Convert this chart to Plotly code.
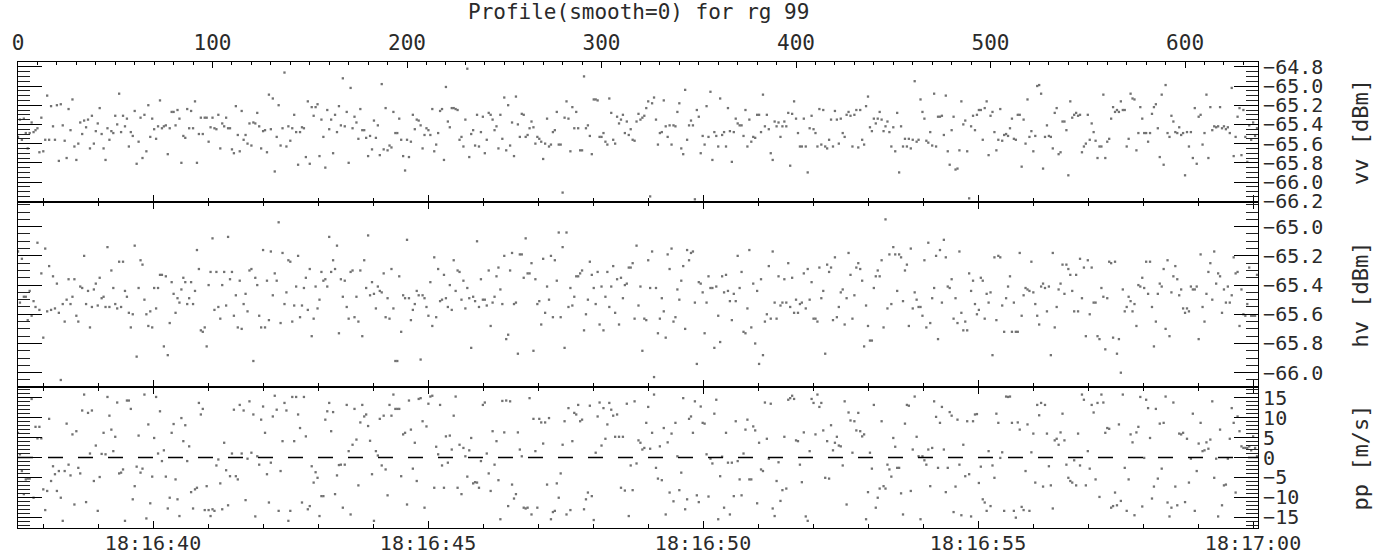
import numpy as np
import pandas as pd
import plotly.graph_objects as go

title_text = "Profile(smooth=0) for rg 99"
t_start = "2024-01-01 18:16:37.545"
t_end = "2024-01-01 18:17:00.091"
dt_seconds = 0.035366
sample_range = [0, 637.5]
time_tick0 = "2024-01-01 18:16:40"

vv_range = [-66.208, -64.75]
hv_range = [-66.098, -64.831]
pp_range = [-17.7, 17.7]

y_titles = ["vv [dBm]", "hv [dBm]", "pp [m/s]"]

vv = [
    -65.53, -65.35, -65.56, -65.34, -65.49, -65.65, -65.49, -65.38, -65.48, -65.46,
    -65.44, -65.69, -65.33, -65.68, -65.56, -65.10, -65.56, -65.21, -65.42, -65.56,
    -65.20, -65.78, -65.19, -65.41, -65.57, -65.75, -65.24, -65.46, -65.14, -65.63,
    -65.77, -65.60, -65.38, -65.50, -65.36, -65.43, -65.35, -65.65, -65.31, -65.60,
    -65.47, -65.39,
    -65.23, -65.50, -65.65, -65.77, -65.44, -65.56, -65.47, -65.49, -65.31, -65.40,
    -65.08, -65.48, -65.31, -65.42, -65.34, -65.63, -65.48, -65.52, -65.26, -65.81,
    -65.58, -65.33,
    -65.75, -65.30, -65.68, -65.20, -65.53, -65.34, -65.45, -65.55, -65.42, -65.15,
    -65.44, -65.42, -65.41, -65.71, -65.44,
    -65.27, -65.27, -65.41, -65.25, -65.34, -65.80, -65.52, -65.54, -65.24, -65.44,
    -65.26, -65.44, -65.16, -65.80, -65.50, -65.33, -65.50, -65.33, -65.33, -65.58,
    -65.43, -65.33, -65.44, -65.45, -65.30, -65.65, -65.39, -65.42, -65.33, -65.44,
    -65.44, -65.66, -65.70, -65.21, -65.51, -65.68, -65.26, -65.56, -65.51, -65.60,
    -65.39, -65.62, -65.38, -65.39, -65.28, -65.42, -65.65, -65.47, -65.46, -65.69,
    -65.09, -65.45, -65.13, -65.89, -65.53, -65.20, -65.62, -65.44, -64.86, -65.63,
    -65.42, -65.57, -65.44, -65.30, -65.48, -65.82, -65.48, -65.43, -65.44, -65.74,
    -65.16, -65.81, -65.22, -65.31, -65.22, -65.19, -65.73, -65.35, -65.53, -65.85,
    -65.25, -65.45, -65.35, -65.70, -65.30, -65.48, -65.21, -65.41, -64.92, -65.42,
    -65.27, -65.80, -65.02, -65.44, -65.32, -65.38, -65.55, -65.24, -65.46, -65.46,
    -65.54, -65.73, -65.52, -65.66, -65.36, -65.54, -65.41, -65.72, -64.98, -65.66,
    -65.23, -65.67, -65.62, -65.64, -65.27, -65.49, -65.49, -65.34, -65.56, -65.73,
    -65.88, -65.56, -65.74, -65.58, -65.30, -65.45, -65.35, -65.36, -65.41, -65.65,
    -65.51, -65.44, -65.46, -65.51, -65.24, -65.68, -65.61, -65.49, -65.26, -65.24,
    -65.77, -65.01, -65.37, -65.43,
    -65.23, -65.23, -65.24, -65.25, -65.56, -65.53, -65.63, -65.35, -64.82, -65.74,
    -65.50, -65.46, -65.62, -65.30, -65.63, -65.48, -65.32, -65.70, -65.56, -65.28,
    -65.30, -65.35, -65.46, -65.42, -65.65, -65.30, -65.55, -65.12, -65.67, -65.20,
    -65.62, -65.38, -65.73, -65.11, -65.40, -65.53, -65.29, -65.30, -65.53, -65.51,
    -65.44,
    -65.37, -65.43, -65.60, -65.53, -65.55, -65.58, -65.76, -65.60, -65.34, -65.63,
    -65.61, -65.48, -65.46, -65.27, -65.61, -65.61, -66.11, -65.33, -65.16, -65.34,
    -65.68, -65.22, -65.44, -65.27, -65.44, -65.67, -65.67, -64.90, -65.44, -65.41,
    -65.52,
    -65.71, -65.14, -65.14, -65.15, -65.53, -65.53, -65.49, -65.58, -65.61, -65.13,
    -65.28, -65.56, -65.60, -65.32, -65.39, -65.35, -65.30, -65.49, -65.37, -65.51,
    -65.45,
    -65.56, -65.57, -65.37, -65.29, -65.35, -65.33, -65.31, -65.23, -65.16, -66.15,
    -65.18, -65.12, -65.35, -65.61, -65.49, -65.48, -65.15, -65.42, -65.53, -65.41,
    -65.61, -65.41, -65.42, -65.27, -65.18, -65.65, -65.71, -65.04, -65.56, -65.41,
    -65.36,
    -65.41, -66.18, -65.25, -65.32, -65.70, -65.52, -65.61, -65.21, -65.53, -65.06,
    -65.77, -65.48, -65.52, -65.63, -65.13, -65.51, -65.48, -65.63, -65.23, -65.47,
    -65.79, -65.48, -65.34, -65.39, -65.41, -65.41, -65.52, -65.25, -65.63, -65.35,
    -65.58,
    -65.53, -65.54, -65.30, -65.30, -65.48, -65.09, -65.42, -65.30, -65.45, -65.70,
    -65.77, -65.37, -65.42, -65.38, -65.53, -65.42, -65.37, -65.42, -65.28, -65.83,
    -65.29, -65.16, -65.34, -65.49, -65.63, -65.63, -65.34, -65.63, -65.90, -65.44,
    -65.31,
    -65.45, -65.49, -65.63, -65.24, -65.61, -65.25, -65.63, -65.65, -65.56, -65.35,
    -65.63, -65.26, -65.35, -65.60, -65.34, -65.49, -65.53, -65.30, -65.27, -65.31,
    -65.63, -65.30, -65.25, -65.64, -65.25, -65.56, -65.61, -65.21, -65.11, -65.43,
    -65.47,
    -65.34, -65.39, -65.34, -65.27, -65.35, -65.47, -65.42, -65.37, -65.48, -65.63,
    -65.43, -65.68, -65.28, -65.90, -65.42, -65.63, -65.55, -65.63, -65.55, -65.65,
    -65.56, -64.95, -65.58, -65.56, -65.14, -65.27, -65.34, -65.57, -65.59, -65.48,
    -65.62, -65.08, -65.63, -65.32, -65.32, -65.31, -65.51, -65.10, -65.68, -65.82,
    -65.46, -65.32, -65.87, -65.86, -65.67, -65.16, -65.40, -65.36, -65.68, -66.17,
    -65.42,
    -65.31, -65.46, -65.30, -65.25, -65.25, -65.56, -65.23, -65.16, -65.72, -65.31,
    -65.27, -65.48, -65.67, -65.56, -65.24, -65.57, -65.51, -65.50, -65.52, -65.44,
    -65.34, -65.55, -65.56, -65.30, -65.30, -65.84, -65.35, -65.60, -65.14, -65.53,
    -65.47,
    -65.68, -65.52, -65.00, -64.99, -65.08, -65.86, -65.53, -65.41, -65.52, -65.53,
    -65.65, -65.28, -65.23, -65.71, -65.69, -65.37, -65.37, -65.46, -65.93, -65.16,
    -65.33, -65.30, -65.28, -65.31, -65.30, -65.69, -65.63, -65.60, -65.30, -65.56,
    -65.39,
    -65.48, -65.57, -65.75, -65.63, -65.63, -65.09, -65.75, -65.58, -65.55, -65.34,
    -65.22, -65.27, -65.25, -65.27, -65.16, -65.25, -65.25, -65.63, -65.55, -65.08,
    -65.13, -65.14, -65.67, -65.49, -65.22, -65.34, -65.49, -65.49, -65.58, -65.49,
    -65.29,
    -65.22, -65.19, -65.44, -65.74, -65.09, -65.82, -64.99, -65.49, -65.53, -65.31,
    -65.37, -65.48, -65.49, -65.43, -65.51, -65.49, -65.93, -65.48, -65.63, -65.48,
    -65.75, -65.23, -65.81, -65.32, -65.30, -65.61, -65.49, -65.09, -65.75, -65.22,
    -65.46,
    -65.42, -65.43, -65.42, -65.22, -65.44, -65.42, -65.45, -65.43, -65.49, -65.02,
    -65.73, -65.53, -65.32, -65.23, -65.72, -65.25, -65.53, -65.79, -65.41, -65.56,
    -65.38,
    -65.52, -65.44,
]

hv = [
    -65.17, -65.52, -65.22, -65.48, -65.48, -65.64, -65.44, -65.61, -65.51, -65.55,
    -65.11, -65.57, -65.32, -65.76, -65.15, -65.58, -65.27, -65.57, -65.34, -65.56,
    -65.39, -65.59, -66.05, -65.53, -65.65, -65.50, -65.36, -65.53, -65.48, -65.36,
    -65.61, -65.65, -65.41, -65.42, -65.20, -65.53, -65.44, -65.69, -65.55, -65.43,
    -65.39, -65.54, -65.35, -65.49, -65.48, -65.55, -65.14, -65.55, -65.30, -65.42,
    -65.53, -65.56, -65.24, -65.55, -65.24, -65.44, -65.48, -65.59, -65.69, -65.60,
    -65.13, -65.89, -65.42, -65.23, -65.26, -65.50, -65.60, -65.68, -65.58, -65.69,
    -65.42, -65.56, -65.42, -65.33, -65.33, -65.82, -65.34, -65.88, -65.66, -65.38,
    -65.46, -65.59, -65.49, -65.52, -65.43, -65.35, -65.38, -65.53, -65.49, -65.38,
    -65.53, -65.44, -65.16, -65.29, -65.71, -65.72, -65.69, -65.82, -65.40, -65.31,
    -65.08, -65.57, -65.31, -65.55, -65.63, -65.40, -65.31, -65.54, -65.07, -65.36,
    -65.31, -65.61, -65.47, -65.69, -65.37, -65.70, -65.53, -65.46, -65.58, -65.30,
    -65.29, -65.92, -65.35, -65.40, -65.61, -65.69, -65.16, -65.69, -65.37, -65.64,
    -65.17, -65.47, -65.32, -65.37, -64.97, -65.66, -65.18, -65.53, -65.45, -65.23,
    -65.24, -65.65, -65.54, -65.41, -65.20, -65.62, -65.54, -65.42, -65.35, -65.57,
    -65.29, -65.75, -65.63, -65.41, -65.56, -65.50, -65.31, -65.37, -65.36, -65.41,
    -65.07, -65.31, -65.23, -65.29, -65.13, -65.73, -65.36, -65.48, -65.37, -65.55,
    -65.63, -65.31, -65.30, -65.62, -65.48, -65.65, -65.30, -65.75, -65.23, -65.42,
    -65.06, -65.47, -65.38, -65.46, -65.56, -65.41, -65.44, -65.45, -65.32, -65.62,
    -65.49, -65.63, -65.29, -65.56, -65.92, -65.92, -65.34, -65.72, -65.47, -65.49,
    -65.09, -65.49, -65.64, -65.57, -65.53, -65.44, -65.47, -65.91, -65.47, -65.49,
    -65.55, -65.61, -65.38, -65.68, -65.21, -65.62, -65.29, -65.51, -65.50, -65.33,
    -65.49, -65.55, -65.40, -65.57, -65.23, -65.44, -65.30,
    -65.31, -65.50, -65.37, -65.56, -65.42, -65.49, -65.83, -65.48, -65.51, -65.10,
    -65.55, -65.36, -65.50, -65.50, -65.54, -65.30, -65.68, -65.52, -65.48, -65.34,
    -65.28, -65.43, -65.53, -65.20, -65.77, -65.74, -65.30, -65.18, -65.53, -65.52,
    -65.87, -65.19, -65.19, -65.35, -65.08, -65.32, -65.32, -65.25, -65.85, -65.36,
    -65.53, -65.51, -65.67, -65.22, -65.59, -65.41, -65.50, -65.20, -65.62, -65.23,
    -65.37, -65.04, -65.62, -65.14, -65.83, -65.04, -65.55, -65.42, -65.54, -65.48,
    -65.34, -65.34, -65.32, -65.30, -65.71, -65.60, -65.50, -65.24, -65.33, -65.42,
    -65.53, -65.31, -65.67, -65.41, -65.71, -65.48, -65.31, -65.55, -65.41, -65.27,
    -65.59, -65.36, -65.67, -65.35, -65.49, -65.40, -65.39, -65.28, -65.28, -65.25,
    -65.63, -65.13, -65.54, -65.41, -65.85, -65.63, -65.64, -65.23, -65.42, -65.17,
    -66.03, -65.42, -65.73, -65.63, -65.49, -65.58, -65.76, -65.19, -65.29, -65.15,
    -65.65, -65.62, -65.43, -65.50, -65.37, -65.27, -65.70, -65.16, -65.23, -65.18,
    -65.17, -65.52, -65.94, -65.38, -65.39, -65.45, -65.73, -65.52, -65.34, -65.42,
    -65.42, -65.83, -65.41, -65.61, -65.79, -65.34, -65.45, -65.33, -65.44, -65.51,
    -65.64, -65.46, -65.51, -65.20, -65.42, -65.31, -65.72, -65.73, -65.56, -65.16,
    -65.69, -65.39, -65.80, -65.44, -65.94, -65.36, -65.88, -65.65, -65.60, -65.27,
    -65.63, -65.17, -65.52, -65.63, -65.34, -65.54, -65.52, -65.36, -65.52, -65.25,
    -65.55, -65.35, -65.59, -65.50, -65.59, -65.53, -65.52, -65.32, -65.56, -65.29,
    -65.50, -65.38, -65.63, -65.63, -65.65, -65.28, -65.49, -65.44, -65.87, -65.26,
    -65.31, -65.28, -65.64, -65.21, -65.62, -65.55, -65.45, -65.43, -65.67, -65.49,
    -65.18, -65.33, -65.63, -65.47, -65.28, -65.25, -65.29, -65.37, -65.82, -65.54,
    -65.68, -65.78, -65.78, -65.42, -65.34, -65.30, -65.34, -65.23, -65.69, -64.95,
    -65.56, -65.19, -65.53, -65.14, -65.19, -65.44, -65.19, -65.21, -65.51, -65.30,
    -65.26, -65.68, -65.15, -65.56, -65.45, -65.50, -65.55,
    -65.55, -65.61, -65.23, -65.69, -65.11, -65.66, -65.49, -65.42, -65.20, -65.77,
    -65.16, -65.52, -65.09, -65.21, -65.41, -65.42, -65.36, -65.63, -65.49, -65.66,
    -65.17, -65.59, -65.71, -65.65, -65.71, -65.32, -65.44, -65.37, -65.53, -65.60,
    -65.57, -65.35, -65.37, -65.63, -65.46, -65.52, -65.45, -65.88, -65.21, -65.64,
    -65.20, -65.21, -65.54, -65.72, -65.49, -65.41, -65.34, -65.72, -65.52, -65.72,
    -65.72, -65.18, -65.61, -65.47, -65.42, -65.43, -65.44, -65.24, -65.45, -65.53,
    -65.61, -65.67, -65.41, -65.39, -65.42, -65.58, -65.41, -65.88, -65.18, -65.69,
    -65.55, -65.43, -65.39, -65.26, -65.46, -65.26, -65.29, -65.33, -65.44, -65.58,
    -65.33, -65.58, -65.22, -65.49, -65.28, -65.75, -65.23, -65.60, -65.28, -65.52,
    -65.52, -65.75, -65.77, -65.42, -65.48, -65.84, -65.49, -65.24, -65.25, -65.76,
    -65.24, -65.87, -65.77, -66.00, -65.43, -65.58, -65.55, -65.48, -65.51, -65.58,
    -65.53, -65.68, -65.40, -65.41, -65.35, -65.42, -65.24, -65.46, -65.24, -65.55,
    -65.82, -65.65, -65.46, -65.39, -65.41, -65.29, -65.70, -65.23, -65.75, -65.45,
    -65.34, -65.27, -65.36, -65.47, -65.43, -65.56, -65.59, -65.56, -65.58, -65.41,
    -65.43, -65.43, -65.41, -65.77, -65.19, -65.55, -65.65, -65.46, -65.31, -65.25,
    -65.50, -65.17, -65.39, -65.32, -65.34, -65.59, -65.43, -65.52, -65.41, -65.52,
    -65.47, -65.21, -65.32, -65.31, -65.68, -65.43, -65.60, -65.61, -65.53, -65.28,
    -65.61, -65.61, -65.61, -65.33,
]

pp = [
    6.2, 0.8, -3.4, -9.2, -5.5, -5.3, -5.3, 14.7, -10.1, 7.7,
    4.8, 7.7, 4.8, -8.0, -13.2, -8.4, 9.7, -5.9, -2.2, -4.2,
    -8.4, -3.4, -10.1, -15.9, -3.4, 8.5, -1.8, -4.5, 5.8, -11.8,
    6.6, -2.6, -4.0, 11.8, 15.8, -11.2, 11.2, 1.0, 11.8, -5.9,
    3.0, -13.4, -4.9, 0.9, 6.2, 0.8, 15.2, 10.5, 7.0, 1.6,
    5.2, 13.8, -4.0, -3.8, -3.0, -15.9, 14.3, 14.3, 12.2, -10.5,
    -7.2, -2.3, 5.5, -3.8, -2.8, 15.8, -15.3, 8.3, -11.5, -4.8,
    4.9, 15.2, 1.0, 11.6, -0.9, 1.8, -4.8, -12.8, -10.1, 6.2,
    8.4, -5.5, -10.5, -14.7, 9.9, 4.1, 8.1, -0.9, 2.8, -8.7,
    -12.8, -8.0, -7.6, 13.7, 10.8, 12.2, -13.2, -7.2, -13.2, -14.7,
    -13.0, -13.4, -2.0, -0.5, -6.5, -13.0, 3.7, -3.2, -12.0, -4.7,
    1.0, 12.0, -4.7, -5.5, 13.2, 1.0, 11.8, -10.7, -0.3, 14.1,
    1.2, 10.8, -14.8, 0.3, -1.8, 9.5, 12.8, 6.2, -4.2, -11.3,
    -1.3, 10.3, 15.5, 12.0, -13.4, -3.4, 4.1, 13.7, 11.8, -15.9,
    -13.4, 15.2, 4.1, 15.2, 10.8, 7.4, -11.3, 15.2, 5.3, -13.0,
    -12.2, -2.2, -6.3, -3.7, -5.1, -14.7, -9.7, -9.7, 9.5, 11.6,
    13.7, 6.6, 11.4, -9.2, -4.5, -1.9, -1.8, -12.6, -1.8, 13.2,
    1.6, -14.3, 3.2, 12.2, 4.5, -7.0, 8.8, 13.2, 10.3, 10.8,
    7.9,
    4.2, -4.2, -15.9, 1.6, 0.5, 9.7, -2.0, 10.5, -3.0, -9.5,
    13.2, 10.5, 15.8, 12.2, 12.2, 12.2, -4.7, 5.8, 6.2, -11.8,
    14.3, 7.0, -2.8, 3.7, -5.9, 14.7, 14.9, 9.1, -12.6, 7.8,
    13.5, 15.3, 15.5, -7.6, 2.7, 0.8, 13.2, -2.0, -7.6, 5.3,
    -1.3, 5.5, 2.0, 10.5, 15.3, -7.6,
    3.2, -9.2, 2.4, 0.3, -4.8, 1.8, 4.9, -6.5, -6.2, -6.3,
    -7.6, -0.9, 13.2, 13.8, 1.0, -4.0, -8.4, 6.6, -1.8, 4.1,
    -5.7, -15.5, 14.2, 6.3, 14.3, -12.2, 14.1, -6.8, -10.3, -9.2,
    6.3, 2.0, 0.3, -12.6, -12.8, -12.6, 14.9, -14.3, 9.7, 1.6,
    -12.6, 9.7, 8.8, 3.5, 8.8, -6.8, 9.9, -15.5, -13.7, -13.4,
    -6.5, -10.1, -4.0, 3.2, 9.1, -14.3, 12.4, -13.2, 4.1, 11.2,
    10.8, 13.2, 9.1, 9.5, -13.0, -10.5, -8.8, 13.0, -9.7, -15.7,
    1.2, 10.3, 13.8, 3.0, 12.4, 4.7, 8.3, 13.7, 12.0, 10.5,
    5.2, 10.8, 5.2, -7.6, 5.2, -8.3, 13.5, -14.7, -2.0, -8.2,
    14.1, -1.5, 4.3, 3.7, 2.0, 2.4, 8.7, 12.7, 2.2, 6.2,
    15.8, -2.6, -5.3, 2.8, -5.7, 7.4, -14.3, 3.8, -8.8, 6.0,
    -11.0,
    8.7, 0.3, -8.2, -3.8, 14.9, -13.0, -10.5, 9.7, 10.3, 6.2,
    14.1, -9.5, -11.2, 12.8, 8.7, 8.5, 0.8, -9.8, -0.3, -1.5,
    11.0, 14.5, -15.5, -4.7, 0.2, -12.6, 6.2, -1.3, -14.3, -1.3,
    -9.7, 9.1, -0.9, -5.5, -9.5, 1.0, 7.0, 9.5, -5.5, -5.5,
    7.8, 6.8, -11.5, 3.7, -3.0, -3.4, 13.8, 4.7, -0.3, 13.5,
    -12.8, -14.7, -5.9, -1.2, -10.9, -8.2, 5.2, -7.8, 14.5, 14.9,
    15.5, 14.7, 4.3, 4.1, -1.8, -6.2, 6.3, -14.8, -15.9, 1.6,
    14.7, 13.7, 5.8, 15.8, 12.7, 13.7, 6.8, -5.1, 4.1, -5.3,
    8.1,
    1.8, 3.7, 5.2, 3.0, 2.8, -2.0, 14.1, -11.8, 11.3, 9.3,
    1.2, 9.1, 6.8, 11.2, 6.6, 5.3, 5.8, -15.5, -8.7, 1.2,
    -2.8, 13.2, -12.6, -10.1, -7.8, 9.1, -7.2, -7.8, -1.8, -3.0,
    -4.8, 4.9, 2.7, -2.6, -2.6, -9.0, -14.3, 8.5, 13.2, 13.0,
    -8.4, 2.0, 15.3, 5.2, 0.3,
    -15.5, 0.3, -0.7, -1.8, 2.0, -7.2, 2.4, 14.1, 10.2, -2.6,
    8.7, 12.7, 2.0, -8.7, -2.6, 11.4, 10.5, -13.7, -7.3, 9.5,
    -1.8, -14.5, 3.2, -4.7, 9.1, -4.2, -14.8, 9.1, 10.8, 10.9,
    -6.4,
    -2.3, -10.5, -11.3, -13.4, 1.6, -12.2, -2.0, -5.1, 11.0, 8.7,
    -0.1, 1.3, -13.4, 15.3, 15.2, 15.3, 8.7, -13.4, -15.1, 8.8,
    7.0, -12.4, -13.2, -3.4, 8.3, -13.4, 1.3, 6.0, -6.3, 13.2,
    10.6,
    13.7, -7.3, 13.2, 6.0, -2.2, -7.0, -12.8, 4.3, 4.7, 3.2,
    6.3, 11.0, 4.3, -1.8, -5.1, -5.9, -6.3, -0.7, -7.0, 6.0,
    -2.0, 15.8, 14.5, -7.0, 1.6, -2.8, 13.2, 11.3, -5.5, 13.7,
    -9.9,
    15.8, 13.8, 6.2, 7.4, 7.2, -12.6, -12.2, -8.8, -12.0, 8.3,
    -10.9, 15.8, -2.6, -13.4, -5.5, 5.8, 3.8, -14.5, 6.3, 7.7,
    15.2, -12.3, -0.1, 14.5, 12.4, 4.9, -10.3, -7.3, 12.2, -5.3,
    8.5, -2.8, 8.7, 15.3, -11.3, -14.8, -12.6, 13.8, -7.3, -12.0,
    6.0, 5.8, 6.2, -11.2, 4.7, -6.3, -0.3, 11.0, -13.4, -3.4,
    3.5,
    8.7, 1.6, 1.8, 3.8, 2.2, 4.5, 14.1, -5.1, -0.3, -14.8,
    7.0, -12.0, -7.0, -6.8, -0.3, 4.7, 12.4, 8.7, -8.8, 10.3,
    6.6, 2.8, 2.4, 2.4, 2.4, 2.8, 1.8, 5.3, 2.4, 0.3,
]


def sample_times(count):
    return pd.Timestamp(t_start) + pd.to_timedelta(np.arange(count) * dt_seconds, unit="s")


FONT = "DejaVu Sans Mono"
TXT = "#2a2a2a"
W, H = 1386, 556
ML, MR, MT, MB = 18, 128, 62, 28
plot_h = H - MT - MB
d1 = [1 - (202 - MT) / plot_h, 1.0]
d2 = [1 - (387 - MT) / plot_h, 1 - (202 - MT) / plot_h]
d3 = [0.0, 1 - (387 - MT) / plot_h]

marker = dict(size=2.3, color="#727272", symbol="square", line=dict(width=0))

fig = go.Figure()
for series, xa, ya in [(vv, "x", "y"), (hv, "x2", "y2"), (pp, "x3", "y3")]:
    fig.add_trace(go.Scatter(x=sample_times(len(series)), y=series, mode="markers",
                             marker=marker, xaxis=xa, yaxis=ya, hoverinfo="skip",
                             showlegend=False))
# carrier trace for the top (sample index) axis
fig.add_trace(go.Scatter(x=sample_range, y=[None, None], mode="markers",
                         xaxis="x4", yaxis="y", hoverinfo="skip", showlegend=False))

xcommon = dict(type="date", range=[t_start, t_end], tick0=time_tick0, dtick=5000,
               ticks="inside", ticklen=7, tickwidth=1.2, tickcolor="#000",
               minor=dict(tick0=time_tick0, dtick=1000, ticks="inside", ticklen=4,
                          tickwidth=1, tickcolor="#000"),
               showline=True, linecolor="#000", linewidth=1, showgrid=False,
               zeroline=False, tickformat="%H:%M:%S", automargin=False,
               ticklabelstandoff=-3,
               tickfont=dict(family=FONT, size=20, color=TXT))

ycommon = dict(side="right", ticks="inside", ticklen=24, tickwidth=1.2, tickcolor="#000",
               mirror="ticks", showline=True, linecolor="#000", linewidth=1.2,
               showgrid=False, zeroline=False, ticklabelstandoff=0, automargin=False,
               tickfont=dict(family=FONT, size=20, color=TXT))

fig.update_layout(
    width=W, height=H,
    margin=dict(l=ML, r=MR, t=MT, b=MB, autoexpand=False),
    paper_bgcolor="white", plot_bgcolor="white",
    font=dict(family=FONT, size=20, color=TXT),
    showlegend=False,
    xaxis=dict(xcommon, anchor="y", mirror=False, showticklabels=False),
    xaxis2=dict(xcommon, anchor="y2", matches="x", mirror="ticks", showticklabels=False),
    xaxis3=dict(xcommon, anchor="y3", matches="x", mirror="ticks", showticklabels=True),
    xaxis4=dict(overlaying="x", side="top", anchor="y", range=sample_range,
                tick0=0, dtick=100, ticks="inside", ticklen=6, tickwidth=1.2,
                tickcolor="#000", minor=dict(dtick=10, ticks="inside", ticklen=3,
                                             tickcolor="#000"),
                showline=True, linecolor="#000", linewidth=1.2, showgrid=False,
                zeroline=False, ticklabelstandoff=3, automargin=False,
                tickfont=dict(family=FONT, size=21, color=TXT)),
    yaxis=dict(ycommon, domain=d1, anchor="x", range=vv_range, tick0=-65.0, dtick=0.2,
               tickformat=".1f",
               minor=dict(dtick=0.05, ticks="inside", ticklen=12, tickcolor="#222")),
    yaxis2=dict(ycommon, domain=d2, anchor="x2", range=hv_range, tick0=-65.0, dtick=0.2,
                tickformat=".1f",
                minor=dict(dtick=0.05, ticks="inside", ticklen=12, tickcolor="#222")),
    yaxis3=dict(ycommon, domain=d3, anchor="x3", range=pp_range, tick0=0, dtick=5,
                minor=dict(dtick=1, ticks="inside", ticklen=12, tickcolor="#222")),
)

# zero reference line in the velocity panel
fig.add_shape(type="line", xref="x3 domain", yref="y3", x0=0, x1=1, y0=0, y1=0,
              line=dict(color="#000", width=1.5, dash="15px,15px"))

plot_w = W - ML - MR
fig.add_annotation(text=title_text, xref="paper", yref="paper", x=0.5,
                   y=1 + (MT - 12) / plot_h, xanchor="center", yanchor="middle",
                   showarrow=False, font=dict(family=FONT, size=21, color=TXT))
for label, dom in zip(y_titles, [d1, d2, d3]):
    fig.add_annotation(text=label, xref="paper", yref="paper",
                       x=(1360 - ML) / plot_w, y=(dom[0] + dom[1]) / 2,
                       xanchor="center", yanchor="middle", textangle=-90,
                       showarrow=False, font=dict(family=FONT, size=22, color=TXT))

fig.write_html("out.html", config={"displayModeBar": False},
               post_script="document.body.style.margin='0';document.body.style.padding='0';"
                           "document.body.style.overflow='hidden';")
